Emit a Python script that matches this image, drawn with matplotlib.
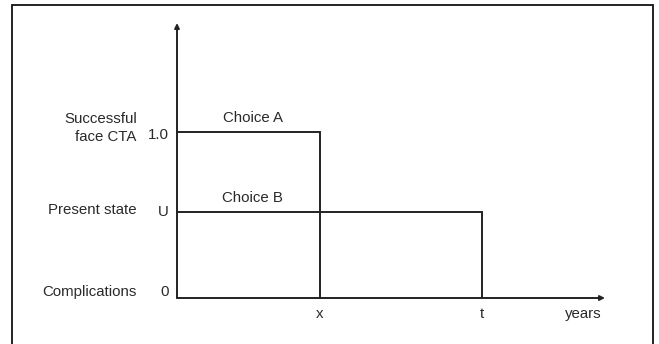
import matplotlib
matplotlib.use("Agg")
import matplotlib.pyplot as plt
from matplotlib.patches import Rectangle

plt.rcParams['font.family'] = ['Liberation Sans', 'DejaVu Sans']

# Symbolic values
x_val = 1.0       # time of choice A ending
t_val = 2.13      # time of choice B ending
u_val = 0.52      # utility of present state
success_val = 1.0
state_levels = [0.0, u_val, success_val]
state_ticklabels = ["0", "U", "1.0"]
state_names = ["Complications", "Present state", "Successful\nface CTA"]
time_ticks = [x_val, t_val]
time_ticklabels = ["x", "t"]
choices = ["Choice A", "Choice B"]
choice_levels = [success_val, u_val]

W, H = 659, 344
fig = plt.figure(figsize=(W / 100, H / 100), dpi=100)

# outer frame
frame = Rectangle((12 / W, -0.05), (653 - 12) / W, (H - 5) / H + 0.05,
                  transform=fig.transFigure, fill=False, edgecolor="#111111",
                  lw=1.3, clip_on=False)
fig.patches.append(frame)

# axes scaled so that 1 unit in x = 143 px, 1 unit in y = 166 px
xmax = (605 - 177) / 143
ymax = (298 - 23) / 166
pad = 0.1
ax = fig.add_axes([(177 - pad * 143) / W, (H - 298 - pad * 166) / H,
                   (605 - 177 + 2 * pad * 143) / W, (298 - 23 + 2 * pad * 166) / H])
ax.set_xlim(-pad, xmax + pad)
ax.set_ylim(-pad, ymax + pad)
ax.axis("off")

lc = "#222222"
tc = "#2a2a2a"
fs = 10.8

# axes with arrows
arrow = dict(arrowstyle="-|>", color=lc, lw=1.4, mutation_scale=7, shrinkA=0, shrinkB=0)
ax.annotate("", xy=(xmax, 0), xytext=(0, 0), arrowprops=arrow)
ax.annotate("", xy=(0, ymax), xytext=(0, 0), arrowprops=arrow)

# choice A: full health until x
ax.plot([0, x_val, x_val], [success_val, success_val, 0], color=lc, lw=1.4,
        solid_joinstyle="miter")
# choice B: present state until t
ax.plot([0, t_val, t_val], [u_val, u_val, 0], color=lc, lw=1.4,
        solid_joinstyle="miter")

for name, lvl in zip(choices, choice_levels):
    ax.annotate(name, xy=(0.53, lvl), xytext=(0, 5), textcoords="offset points",
                ha="center", va="bottom", fontsize=fs, color=tc)

# y-axis value labels and state names
for lvl, lab, name in zip(state_levels, state_ticklabels, state_names):
    dy = 4 if lvl == 0 else (-2 if lvl == success_val else -0.5)
    ax.annotate(lab, xy=(0, lvl), xytext=(-6, dy), textcoords="offset points",
                ha="right", va="center", fontsize=fs, color=tc)
    dy2 = 4 if lvl == 0 else (3 if "\n" in name else 1)
    ax.annotate(name, xy=(0, lvl), xytext=(-29, dy2), textcoords="offset points",
                ha="right", va="center", fontsize=fs, color=tc,
                multialignment="right", linespacing=1.4)

for pos, lab in zip(time_ticks, time_ticklabels):
    ax.annotate(lab, xy=(pos, 0), xytext=(0, -11.5), textcoords="offset points",
                ha="center", va="center", fontsize=fs, color=tc)

ax.annotate("years", xy=(xmax, 0), xytext=(-16, -11.5), textcoords="offset points",
            ha="center", va="center", fontsize=fs, color=tc)

fig.savefig("out.png", dpi=100)
